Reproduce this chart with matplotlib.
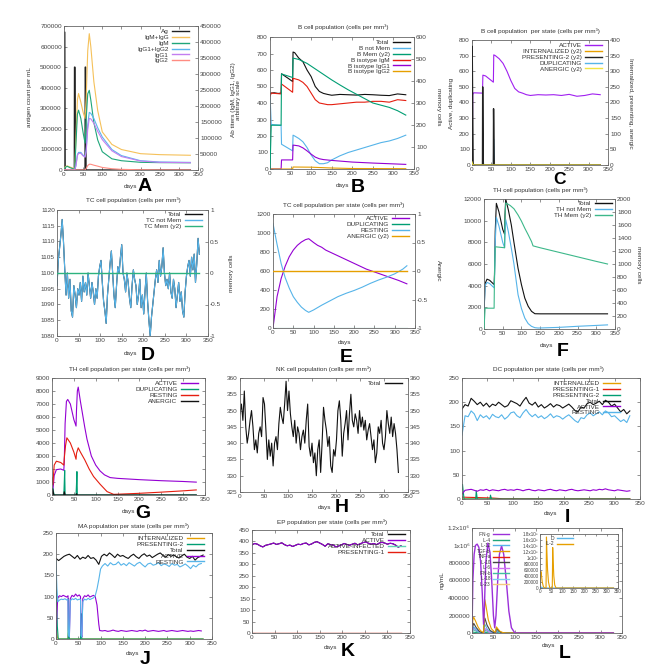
import numpy as np
import matplotlib
matplotlib.use("Agg")
import matplotlib.pyplot as plt
from matplotlib.lines import Line2D

plt.rcParams['font.family'] = ['Liberation Sans', 'DejaVu Sans']

W, H = 664, 670
fig = plt.figure(figsize=(W / 100, H / 100), dpi=100)
FS = 4.6
TXT = '#444444'

BLK = '#111111'; PUR = '#9400D3'; GRN = '#009E73'; LBL = '#56B4E9'
ORG = '#E69F00'; YEL = '#F0E442'; DBL = '#0072B2'; RED = '#E51E10'

# ---------------- DATA ----------------
# A: antigen / antibodies
A_ag_days = [0, 0.5, 2, 3, 27, 27.5, 28.5, 29.5, 55, 55.5, 56.5, 57.5, 330]
A_ag = [0, 670000, 670000, 0, 0, 500000, 500000, 0, 0, 500000, 500000, 0, 0]
A_days = [0, 3, 8, 15, 25, 28, 31, 35, 38, 44, 50, 55, 58, 62, 66, 70, 78, 88, 100, 125, 150, 200, 250, 330]
A_igm_igg = [0, 9600, 12900, 9600, 5100, 3200, 96000, 219000, 239000, 212000, 180000, 161000, 225000, 373000,
             426000, 386000, 276000, 186000, 119000, 80000, 64000, 51000, 48000, 46000]
A_igm = [0, 7700, 11600, 7700, 3200, 1900, 77000, 174000, 187000, 161000, 116000, 84000, 161000, 238000,
         249000, 219000, 148000, 94000, 57000, 35000, 29000, 24000, 23000, 22500]
A_igg12 = [0, 0, 0, 0, 0, 0, 12900, 48000, 55000, 55000, 46000, 42000, 64000, 141000, 180000, 177000,
           161000, 132000, 103000, 64000, 45000, 29000, 25000, 23800]
A_igg1 = [0, 0, 0, 0, 0, 0, 12000, 45000, 52000, 52000, 44000, 40000, 58000, 127000, 161000, 160000,
          146000, 121000, 95000, 60000, 42000, 28000, 24000, 23000]
A_igg2 = [0, 0, 0, 0, 0, 0, 0, 0, 0, 0, 0, 0, 5000, 14000, 18000, 18000, 15000, 12000, 8000, 4000, 2000,
          700, 200, 0]

# B: B cell population
B_tot_days = [0, 2, 10, 20, 27, 28, 35, 45, 55, 56, 60, 70, 80, 90, 100, 110, 120, 130, 140, 150, 170, 190,
              210, 230, 250, 270, 290, 310, 330]
B_tot = [453, 460, 462, 458, 460, 577, 565, 548, 530, 709, 705, 672, 650, 600, 560, 500, 470, 458, 452, 447,
         452, 450, 448, 452, 450, 447, 445, 455, 450]
B_nm_days = [0, 3, 27, 28, 55, 56, 60, 70, 80, 90, 100, 110, 120, 130, 140, 150, 170, 190, 210, 230, 250,
             270, 290, 310, 330]
B_nm = [450, 270, 265, 150, 110, 205, 200, 185, 165, 130, 85, 50, 32, 32, 38, 55, 80, 100, 115, 130, 145,
        160, 170, 185, 205]
B_mem_days = [0, 3, 27, 28, 55, 56, 70, 90, 110, 130, 150, 170, 190, 210, 230, 250, 270, 290, 310, 330]
B_mem = [0, 199, 199, 432, 416, 504, 498, 480, 455, 430, 405, 382, 360, 340, 320, 300, 290, 280, 265, 245]
B_igm_days = [0, 3, 27, 28, 55, 56, 70, 80, 90, 100, 110, 120, 130, 140, 150, 170, 190, 210, 230, 250, 270,
              290, 310, 330]
B_igm = [440, 460, 455, 515, 465, 550, 540, 525, 500, 460, 420, 400, 395, 390, 390, 395, 400, 405, 405, 410,
         410, 405, 420, 415]
B_igg1_days = [0, 27, 28, 55, 56, 70, 80, 90, 100, 110, 120, 130, 150, 175, 200, 250, 300, 330]
B_igg1 = [0, 0, 55, 55, 145, 140, 128, 110, 90, 72, 62, 57, 52, 47, 42, 36, 31, 28]
B_igg2_days = [0, 55, 56, 100, 150, 200, 330]
B_igg2 = [0, 0, 12, 11, 6, 3, 2]

# C: B cell per state
C_act_days = [0, 2, 4, 27, 28, 35, 45, 55, 56, 60, 70, 80, 90, 100, 110, 120, 130, 140, 150, 170, 190, 210,
              230, 250, 270, 290, 310, 330]
C_act = [0, 450, 462, 460, 575, 570, 550, 530, 705, 700, 680, 650, 600, 540, 490, 468, 460, 450, 445, 450,
         448, 450, 445, 452, 440, 445, 455, 450]
C_spk_days = [0, 0.5, 3, 27, 27.5, 29, 55, 55.5, 57, 330]
C_pres2 = [0, 380, 0, 0, 250, 0, 0, 180, 0, 0]
C_s_days = [0, 1, 3, 27, 28, 30, 55, 56, 58, 330]
C_dup = [40, 20, 0, 0, 90, 0, 0, 165, 0, 0]
C_int = [15, 10, 0, 0, 20, 0, 0, 15, 0, 0]
C_anr_days = [0, 1, 3, 330]
C_anr = [10, 5, 0, 0]

# D: TC cell population (every 3 days)
D_notmem = [1096, 1104, 1108, 1112, 1117, 1110, 1101, 1093, 1100, 1092,
            1098, 1088, 1086, 1096, 1093, 1089, 1095, 1093, 1097, 1091,
            1099, 1094, 1097, 1093, 1100, 1096, 1092, 1097, 1094, 1090,
            1095, 1092, 1099, 1102, 1104, 1097, 1091, 1088, 1084, 1093,
            1098, 1103, 1107, 1100, 1093, 1089, 1096, 1102, 1100, 1105,
            1109, 1100, 1098, 1094, 1100, 1097, 1092, 1089, 1096, 1101,
            1098, 1096, 1090, 1093, 1098, 1089, 1093, 1087, 1094, 1100,
            1091, 1085, 1080, 1086, 1090, 1094, 1098, 1101, 1097, 1104,
            1099, 1102, 1108, 1100, 1096, 1098, 1095, 1100, 1094, 1092,
            1098, 1095, 1089, 1093, 1097, 1091, 1094, 1088, 1086, 1094,
            1099, 1102, 1104, 1099, 1105, 1101, 1106, 1097, 1103, 1111,
            1106]
D_mem_days = [0, 330]
D_mem = [0, 0]

# E: TC cell per state
E_act_days = [0, 10, 20, 30, 40, 50, 60, 70, 80, 88, 100, 110, 120, 130, 150, 170, 190, 210, 230, 250, 270,
              290, 310, 330]
E_act = [0, 330, 520, 650, 750, 820, 870, 905, 930, 940, 900, 870, 850, 820, 780, 740, 700, 660, 620, 590,
         560, 530, 500, 465]
E_rest_days = [0, 10, 20, 30, 40, 50, 60, 70, 80, 88, 100, 120, 140, 160, 180, 200, 220, 240, 260, 280, 300,
               320, 330]
E_rest = [1100, 880, 680, 530, 420, 330, 270, 220, 185, 165, 190, 240, 285, 330, 365, 395, 430, 470, 505,
          535, 570, 620, 655]
E_flat_days = [0, 330]
E_dup = [3, 3]
E_anergic = [0, 0]

# F: TH cell population
F_tot_days = [0, 3, 8, 15, 27, 28, 30, 33, 40, 50, 55, 56, 58, 65, 73, 80, 91, 100, 109, 118, 127, 136, 150,
              200, 250, 300, 330]
F_tot = [1500, 4200, 4600, 4500, 4100, 5000, 9000, 11600, 10800, 9200, 8750, 10500, 12000, 11000, 9600,
         8000, 5600, 4100, 2850, 2100, 1630, 1410, 1400, 1400, 1400, 1400, 1400]
F_nm_days = [0, 3, 8, 15, 27, 28, 30, 33, 40, 50, 55, 56, 58, 65, 73, 80, 91, 100, 109, 118, 127, 136, 145,
             200, 250, 300, 330]
F_nm = [1400, 4000, 4300, 4200, 3800, 4500, 8000, 10300, 9500, 8000, 7500, 8500, 10100, 9000, 7460, 6000,
        3160, 1900, 1010, 500, 245, 120, 90, 150, 250, 330, 380]
F_mem_days = [0, 3, 27, 28, 30, 55, 56, 58, 70, 80, 91, 100, 109, 118, 127, 131, 150, 200, 250, 300, 330]
F_mem = [0, 320, 320, 800, 1265, 1250, 1700, 1940, 1900, 1850, 1754, 1660, 1550, 1450, 1345, 1279, 1250,
         1180, 1110, 1040, 1000]

# G: TH cell per state
G_act_days = [0, 2, 5, 10, 20, 27, 28, 30, 33, 36, 42, 50, 55, 56, 58, 60, 65, 75, 80, 90, 100, 110, 120,
              133, 150, 200, 250, 300, 330]
G_act = [0, 300, 1500, 1950, 2000, 1900, 2500, 5500, 7200, 7350, 7000, 5800, 5300, 6500, 8000, 8300, 7200,
         5200, 4300, 3000, 2300, 1850, 1550, 1340, 1280, 1180, 1100, 1040, 990]
G_rest_days = [0, 2, 5, 10, 20, 27, 28, 31, 34, 42, 50, 55, 56, 60, 65, 75, 85, 95, 110, 126, 141, 150, 200,
               250, 300, 330]
G_rest = [1350, 780, 2300, 2600, 2500, 2300, 2800, 3800, 4400, 4000, 3300, 2750, 3200, 3630, 3300, 2700,
          2000, 1425, 830, 260, 50, 60, 130, 220, 320, 390]
G_dup_days = [0, 1, 2, 3, 5, 27, 28, 29, 30, 55, 56, 57, 58, 330]
G_dup = [0, 400, 500, 300, 0, 0, 900, 1900, 0, 0, 800, 1800, 0, 0]
G_anr_days = [0, 1, 2, 4, 27, 28, 30, 55, 56, 58, 330]
G_anr = [0, 450, 400, 0, 0, 250, 0, 0, 100, 0, 0]

# H: NK cells (every 3 days)
H_total = [349, 352, 347, 356, 345, 340, 343, 347, 350, 345,
           338, 341, 337, 343, 345, 342, 354, 352, 344, 335,
           341, 336, 340, 333, 340, 342, 338, 346, 351, 348,
           346, 352, 359, 350, 356, 349, 345, 342, 347, 340,
           345, 343, 338, 342, 344, 340, 347, 352, 339, 336,
           340, 334, 337, 330, 338, 341, 331, 340, 351, 347,
           344, 339, 342, 333, 331, 338, 336, 341, 350, 353,
           347, 336, 343, 346, 350, 341, 349, 355, 347, 345,
           349, 347, 343, 350, 345, 348, 344, 347, 341, 344,
           346, 342, 338, 341, 334, 337, 345, 343, 347, 340,
           338, 342, 350, 346, 343, 348, 342, 346, 343, 338,
           331]

# I: DC per state (every 6 days)
I_total = [186, 195, 192, 208, 202, 195, 200, 192, 198, 190, 196, 193, 200, 195, 190, 193, 203, 200, 197, 192,
           202, 210, 198, 194, 200, 190, 195, 188, 192, 197, 190, 195, 193, 188, 192, 196, 190, 183, 180, 190,
           188, 197, 200, 195, 198, 202, 195, 204, 200, 192, 196, 188, 180, 185, 176, 182]
I_rest = [132, 172, 170, 182, 176, 162, 174, 168, 172, 165, 175, 170, 168, 174, 165, 170, 178, 180, 172, 168,
          178, 185, 176, 170, 175, 168, 172, 166, 170, 176, 168, 172, 170, 165, 170, 174, 168, 162, 158, 168,
          166, 174, 178, 172, 176, 180, 174, 182, 178, 170, 172, 166, 160, 164, 158, 172]
I_active = [10, 18, 19, 20, 18, 16, 19, 18, 20, 17, 19, 18, 17, 19, 20, 18, 19, 18, 20, 19,
            17, 19, 20, 18, 17, 19, 18, 17, 19, 20, 18, 17, 19, 18, 17, 19, 20, 18, 17, 18,
            19, 18, 17, 19, 18, 20, 19, 21, 19, 18, 17, 19, 18, 17, 16, 17]
I_sp_days = [0, 1, 2, 4, 27, 28, 30, 55, 56, 58, 330]
I_pres2 = [20, 30, 20, 0, 0, 17, 0, 0, 8, 0, 0]
I_int = [3, 2, 0, 0, 0, 4, 0, 0, 3, 0, 0]
I_p1_days = [0, 10, 30, 60, 80, 330]
I_pres1 = [4, 3.5, 3, 2, 0.5, 0.3]

# J: MA per state
J_total = [190, 185, 190, 195, 198, 200, 195, 190, 197, 188, 193, 190, 197, 190, 192, 186, 176, 195, 200, 196,
           203, 198, 192, 200, 195, 197, 193, 190, 196, 200, 194, 190, 197, 201, 195, 198, 192, 196, 200, 203,
           197, 193, 199, 195, 198, 194, 191, 196, 200, 193, 190, 195, 186, 192, 195, 198]
J_rest_days = [0, 2, 4, 8, 12, 16, 20, 24, 27, 28, 30, 32, 36, 40, 44, 48, 52, 55, 56, 58, 60, 64, 68, 72, 76,
               80, 84, 88, 92, 96, 100, 104] + list(range(110, 331, 6))
J_rest = [185, 120, 88, 92, 94, 93, 95, 92, 94, 10, 5, 90, 95, 93, 96, 92, 94, 93, 8, 5,
          88, 94, 92, 96, 93, 95, 97, 102, 118, 140, 165, 172,
          178, 172, 180, 175, 176, 182, 174, 178, 173, 180, 176, 172, 178, 181, 175, 170, 177, 179, 174, 176,
          180, 173, 177, 175, 171, 178, 174, 176, 170, 173, 177, 172, 166, 174, 170, 176, 178]
J_act_days = [0, 2, 4, 8, 12, 16, 20, 24, 27, 28, 30, 32, 36, 40, 44, 48, 52, 55, 56, 58, 60, 64, 68, 72, 76,
              80, 84, 88, 92, 96, 98] + list(range(104, 331, 6))
J_act = [0, 60, 98, 102, 100, 103, 101, 99, 102, 20, 5, 95, 103, 100, 106, 101, 104, 100, 15, 5,
         95, 102, 100, 104, 99, 101, 103, 100, 80, 35, 20,
         19, 20, 18, 19, 21, 19, 18, 20, 19, 18, 19, 20, 19, 18, 20, 19, 21, 18, 19, 20,
         19, 18, 19, 20, 18, 19, 20, 19, 18, 19, 20, 19, 18, 19, 18, 19, 20, 19]
J_p2_days = [0, 1, 3, 5, 27, 28, 29, 30, 55, 56, 57, 58, 330]
J_pres2 = [135, 110, 30, 0, 0, 95, 15, 0, 0, 60, 10, 0, 0]
J_int_days = [0, 1, 3, 5, 27, 28, 30, 330]
J_int = [40, 20, 5, 0, 0, 15, 0, 0]

# K: EP per state (every 6 days)
K_active = [385, 391, 388, 381, 376, 383, 386, 389, 393, 387, 390, 394, 386, 381, 384, 378, 383, 388, 386, 391,
            393, 385, 389, 396, 399, 393, 387, 379, 390, 386, 384, 376, 380, 385, 391, 387, 383, 388, 392, 385,
            390, 395, 398, 392, 388, 391, 386, 393, 396, 393, 388, 392, 390, 384, 375, 381]
K_zero_days = [0, 330]
K_infected = [1, 1]
K_pres1 = [0, 0]

# L: cytokines
L_ifng_days = [0, 2, 5, 8, 12, 16, 20, 24, 27, 29, 32, 37, 42, 46, 50, 53, 56, 60, 64, 69, 74, 80, 86, 92,
               100, 330]
L_ifng = [0, 600000, 900000, 1000000, 1016000, 980000, 820000, 450000, 100000, 300000, 800000, 1027000,
          920000, 600000, 200000, 60000, 200000, 600000, 900000, 996000, 900000, 600000, 250000, 60000, 0, 0]
L_tgfb_days = [0, 2, 4, 8, 14, 20, 27, 28, 30, 33, 38, 45, 52, 55, 57, 60, 65, 72, 80, 330]
L_tgfb = [0, 150000, 180000, 140000, 70000, 25000, 5000, 100000, 380000, 300000, 150000, 50000, 15000,
          10000, 70000, 50000, 20000, 5000, 0, 0]
L_il10_days = [0, 2, 4, 10, 18, 27, 28, 30, 35, 42, 50, 55, 57, 62, 70, 330]
L_il10 = [0, 80000, 110000, 60000, 15000, 0, 100000, 170000, 90000, 30000, 5000, 0, 60000, 25000, 0, 0]
L_il12_days = [0, 2, 4, 10, 18, 27, 28, 30, 36, 45, 55, 57, 62, 70, 330]
L_il12 = [0, 50000, 70000, 35000, 10000, 0, 60000, 100000, 40000, 10000, 0, 40000, 15000, 0, 0]
L_small_days = [0, 3, 10, 20, 28, 31, 40, 56, 59, 70, 330]
L_il6 = [0, 60000, 30000, 5000, 0, 50000, 10000, 0, 30000, 0, 0]
L_ifnb = [0, 40000, 20000, 3000, 0, 30000, 8000, 0, 20000, 0, 0]
L_il4 = [0, 10000, 5000, 0, 0, 8000, 0, 0, 4000, 0, 0]
L_zero_days = [0, 330]
L_zero = [0, 0]
L_il2_days = [0, 2, 4, 7, 10, 15, 20, 27, 28, 29, 31, 34, 38, 44, 55, 56, 57, 59, 62, 66, 72, 330]
L_il2 = [0, 400000, 550000, 400000, 200000, 50000, 0, 0, 600000, 1700000, 1200000, 600000, 200000, 0, 0,
         600000, 1350000, 900000, 400000, 100000, 0, 0]
L_d_days = [0, 2, 5, 10, 20, 330]
L_d = [0, 40000, 30000, 10000, 0, 0]
L_tick_labels = ['0', '200000', '400000', '600000', '800000', '1x10\u2076', '1.2x10\u2076']
L_inset_tick_labels = ['0', '200000', '400000', '600000', '800000', '1x10\u2076', '1.2x10\u2076',
                       '1.4x10\u2076', '1.6x10\u2076', '1.8x10\u2076']


# ---------------- helpers ----------------
def px(x, y):
    return x / W, 1 - y / H


def make_ax(l, t, r, b, ylim, yt, ylab=None, xmax=350):
    ax = fig.add_axes([l / W, 1 - b / H, (r - l) / W, (b - t) / H])
    ax.set_xlim(0, xmax)
    ax.set_ylim(*ylim)
    ax.set_xticks(range(0, 351, 50))
    ax.set_yticks(yt)
    ax.set_yticklabels(ylab if ylab else [f"{v:g}" for v in yt])
    ax.tick_params(direction='in', length=2, width=0.5, labelsize=FS, labelcolor=TXT, color='#666666',
                   top=True, right=True, pad=1.5)
    for s in ax.spines.values():
        s.set_linewidth(0.6)
        s.set_color('#666666')
    return ax


def twin(ax, ylim, yt, ylab=None):
    ax.tick_params(right=False)
    a2 = ax.twinx()
    a2.set_ylim(*ylim)
    a2.set_yticks(yt)
    a2.set_yticklabels(ylab if ylab else [f"{v:g}" for v in yt])
    a2.tick_params(direction='in', length=2, width=0.5, labelsize=FS, labelcolor=TXT, color='#666666', pad=1.5)
    for s in a2.spines.values():
        s.set_visible(False)
    return a2


def legend(ax, items, x, y, fs=FS, hl=2.6, sp=0.05):
    hs = [Line2D([], [], color=c, lw=1.0) for _, c in items]
    lg = ax.legend(hs, [n for n, _ in items], loc='upper right', bbox_to_anchor=px(x, y),
                   bbox_transform=fig.transFigure, frameon=False, fontsize=fs, markerfirst=False,
                   labelspacing=sp, handlelength=hl, handletextpad=0.6, borderpad=0, borderaxespad=0)
    for t in lg.get_texts():
        t.set_color('#333333')
    return lg


def title(x, y, s):
    fig.text(*px(x, y), s, ha='center', va='center', fontsize=FS, color='#333333')


def days(x, y):
    fig.text(*px(x, y), 'days', ha='center', va='center', fontsize=FS, color='#333333')


def letter(x, y, s, fs=14):
    fig.text(*px(x, y), s, ha='center', va='center', fontsize=fs, fontweight='bold', color='black')


def ylab(x, y, s, rot=90):
    fig.text(*px(x, y), s, ha='center', va='center', fontsize=FS, color='#333333', rotation=rot,
             multialignment='center')


LW = 0.8
MM3 = 'mm\u00b3'

# ---------------- A ----------------
ax = make_ax(64, 26, 198, 170, (0, 700000), range(0, 700001, 100000))
a2 = twin(ax, (0, 450000), range(0, 450001, 50000))
ax.plot(A_ag_days, A_ag, color='#222222', lw=1.0)
a2.plot(A_days, A_igm_igg, color='#F5C15A', lw=LW)
a2.plot(A_days, A_igm, color='#1FA67A', lw=LW)
a2.plot(A_days, A_igg12, color='#5AB4EE', lw=LW)
a2.plot(A_days, A_igg1, color='#C27EF0', lw=LW)
a2.plot(A_days, A_igg2, color='#FF8C82', lw=LW)
legend(a2, [('Ag', '#222222'), ('IgM+IgG', '#F5C15A'), ('IgM', '#1FA67A'), ('IgG1+IgG2', '#5AB4EE'),
            ('IgG1', '#C27EF0'), ('IgG2', '#FF8C82')], 189, 29)
ylab(29, 97, 'antigen count per mL')
days(131, 187)
letter(145, 187, 'A')

# ---------------- B ----------------
ax = make_ax(270, 37, 414, 169, (0, 800), range(0, 801, 100))
a2 = twin(ax, (0, 600), range(0, 601, 100))
ax.plot(B_tot_days, B_tot, color=BLK, lw=LW)
ax.plot(B_nm_days, B_nm, color=LBL, lw=LW)
a2.plot(B_mem_days, B_mem, color=GRN, lw=LW)
ax.plot(B_igm_days, B_igm, color=RED, lw=LW)
ax.plot(B_igg1_days, B_igg1, color=PUR, lw=LW)
ax.plot(B_igg2_days, B_igg2, color=ORG, lw=LW)
legend(a2, [('Total', BLK), ('B not Mem', LBL), ('B Mem (y2)', GRN), ('B isotype IgM', RED),
            ('B isotype IgG1', PUR), ('B isotype IgG2', ORG)], 410, 40)
title(343, 27, 'B cell population (cells per ' + MM3 + ')')
ylab(236, 100, 'Ab titers (IgM, IgG1, IgG2)\narbitrary scale')
ylab(438, 107, 'memory cells', -90)
days(342, 185)
letter(358, 188, 'B')

# ---------------- C ----------------
ax = make_ax(472, 40, 608, 165, (0, 800), range(0, 801, 100))
a2 = twin(ax, (0, 400), range(0, 401, 50))
ax.plot(C_act_days, C_act, color='#A020F0', lw=LW)
a2.plot(C_s_days, C_int, color=ORG, lw=LW)
a2.plot(C_spk_days, C_pres2, color='#222222', lw=1.0)
ax.plot(C_s_days, C_dup, color=LBL, lw=LW)
a2.plot(C_anr_days, C_anr, color=YEL, lw=LW)
legend(a2, [('ACTIVE', '#A020F0'), ('INTERNALIZED (y2)', ORG), ('PRESENTING-2 (y2)', '#222222'),
            ('DUPLICATING', LBL), ('ANERGIC (y2)', YEL)], 602, 43)
title(540, 31, 'B cell population  per state (cells per ' + MM3 + ')')
ylab(451, 103, 'Active, duplicating')
ylab(630, 103, 'Internalized, presenting, anergic', -90)
letter(559, 179, 'C', fs=12.5)

# ---------------- D ----------------
ax = make_ax(57, 210, 208, 336, (1080, 1120), range(1080, 1121, 5))
a2 = twin(ax, (-1, 1), [-1, -0.5, 0, 0.5, 1])
d_days = np.linspace(0, 330, len(D_notmem))
ax.plot(d_days, D_notmem, color=BLK, lw=LW)
ax.plot(d_days, D_notmem, color=LBL, lw=LW)
a2.plot(D_mem_days, D_mem, color='#2DB37F', lw=1.0)
legend(a2, [('Total', BLK), ('TC not Mem', LBL), ('TC Mem (y2)', '#2DB37F')], 202, 212)
title(133, 200, 'TC cell population (cells per ' + MM3 + ')')
days(130, 353)
letter(148, 355, 'D')

# ---------------- E ----------------
ax = make_ax(273, 214, 415, 328, (0, 1200), range(0, 1201, 200))
a2 = twin(ax, (-1, 1), [-1, -0.5, 0, 0.5, 1])
ax.plot(E_act_days, E_act, color=PUR, lw=LW)
ax.plot(E_flat_days, E_dup, color=GRN, lw=LW)
ax.plot(E_rest_days, E_rest, color=LBL, lw=LW)
a2.plot(E_flat_days, E_anergic, color=ORG, lw=1.0)
legend(a2, [('ACTIVE', PUR), ('DUPLICATING', GRN), ('RESTING', LBL), ('ANERGIC (y2)', ORG)], 409, 216)
title(344, 205, 'TC cell population per state (cells per ' + MM3 + ')')
ylab(231, 273, 'memory cells')
ylab(438, 271, 'Anergic', -90)
days(344, 342)
letter(346, 357, 'E')

# ---------------- F ----------------
ax = make_ax(484, 199, 615, 329, (0, 12000), range(0, 12001, 2000))
a2 = twin(ax, (0, 2000), range(0, 2001, 200))
ax.plot(F_tot_days, F_tot, color=BLK, lw=LW)
ax.plot(F_nm_days, F_nm, color=LBL, lw=LW)
a2.plot(F_mem_days, F_mem, color='#3DB88A', lw=LW)
legend(a2, [('Total', BLK), ('TH not Mem', LBL), ('TH Mem (y2)', '#3DB88A')], 612, 201)
title(540, 190, 'TH cell population (cells per ' + MM3 + ')')
ylab(638, 265, 'memory cells', -90)
days(546, 346)
letter(563, 352, 'F')

# ---------------- G ----------------
ax = make_ax(52, 378, 205, 495, (0, 9000), range(0, 9001, 1000))
ax.plot(G_act_days, G_act, color=PUR, lw=LW)
ax.plot(G_dup_days, G_dup, color=GRN, lw=LW)
ax.plot(G_rest_days, G_rest, color=RED, lw=LW)
ax.plot(G_anr_days, G_anr, color=BLK, lw=LW)
legend(ax, [('ACTIVE', PUR), ('DUPLICATING', GRN), ('RESTING', RED), ('ANERGIC', BLK)], 198, 381)
title(130, 369, 'TH cell population per state (cells per ' + MM3 + ')')
days(128, 511)
letter(143, 514, 'G')

# ---------------- H ----------------
ax = make_ax(240, 378, 408, 492, (325, 360), range(325, 361, 5))
a2 = twin(ax, (325, 360), range(325, 361, 5))
ax.plot(np.linspace(0, 330, len(H_total)), H_total, color=BLK, lw=LW)
legend(a2, [('Total', BLK)], 402, 381)
title(324, 369, 'NK cell population (cells per ' + MM3 + ')')
days(325, 508)
letter(342, 508, 'H')

# ---------------- I ----------------
ax = make_ax(462, 378, 640, 499, (0, 250), range(0, 251, 50))
i_days = np.linspace(0, 330, len(I_total))
ax.plot(I_sp_days, I_int, color=ORG, lw=LW)
ax.plot(I_p1_days, I_pres1, color=RED, lw=LW)
ax.plot(I_sp_days, I_pres2, color=GRN, lw=LW)
ax.plot(i_days, I_total, color=BLK, lw=LW)
ax.plot(i_days, I_active, color=PUR, lw=LW)
ax.plot(i_days, I_rest, color=LBL, lw=LW)
legend(ax, [('INTERNALIZED', ORG), ('PRESENTING-1', RED), ('PRESENTING-2', GRN), ('Total', BLK),
            ('ACTIVE', PUR), ('RESTING', LBL)], 620, 381)
title(548, 369, 'DC population per state (cells per ' + MM3 + ')')
days(551, 514)
letter(567, 517, 'I')

# ---------------- J ----------------
ax = make_ax(56, 533, 212, 639, (0, 250), range(0, 251, 50))
ax.plot(J_int_days, J_int, color=ORG, lw=LW)
ax.plot(J_p2_days, J_pres2, color=GRN, lw=LW)
ax.plot(np.linspace(0, 330, len(J_total)), J_total, color=BLK, lw=LW)
ax.plot(J_act_days, J_act, color=PUR, lw=LW)
ax.plot(J_rest_days, J_rest, color=LBL, lw=LW)
legend(ax, [('INTERNALIZED', ORG), ('PRESENTING-2', GRN), ('Total', BLK), ('ACTIVE', PUR),
            ('RESTING', LBL)], 204, 536)
title(133, 526, 'MA population per state (cells per ' + MM3 + ')')
days(133, 653)
letter(145, 660, 'J')

# ---------------- K ----------------
ax = make_ax(252, 530, 410, 633, (0, 450), range(0, 451, 50))
k_days = np.linspace(0, 330, len(K_active))
ax.plot(k_days, K_active, color=BLK, lw=LW)
ax.plot(k_days, K_active, color=PUR, lw=LW)
ax.plot(K_zero_days, K_infected, color='#5FD3B3', lw=LW)
ax.plot(K_zero_days, K_pres1, color=RED, lw=1.0)
legend(ax, [('Total', BLK), ('ACTIVE', PUR), ('ACTIVE-INFECTED', '#5FD3B3'), ('PRESENTING-1', RED)],
       405, 532)
title(332, 522, 'EP population per state (cells per ' + MM3 + ')')
days(331, 647)
letter(348, 651, 'K')

# ---------------- L ----------------
ax = make_ax(472, 528, 622, 633, (0, 1200000), range(0, 1200001, 200000), L_tick_labels)
L_cols = {'IFN-g': '#9B30D9', 'IL-4': '#1FA67A', 'IL-12': '#56B4E9', 'TGF-b': '#E69F00',
          'TNF-a': '#E51E10', 'IL-10': '#444444', 'IL-6': '#D070F0', 'IFN-b': '#40C0A0',
          'IL-18': '#80D0F0', 'IL-23': '#F5C880'}
ax.plot(L_zero_days, L_zero, color=L_cols['IL-23'], lw=LW)
ax.plot(L_zero_days, L_zero, color=L_cols['IL-18'], lw=LW)
ax.plot(L_zero_days, L_zero, color=L_cols['TNF-a'], lw=LW)
ax.plot(L_small_days, L_il4, color=L_cols['IL-4'], lw=LW)
ax.plot(L_small_days, L_ifnb, color=L_cols['IFN-b'], lw=LW)
ax.plot(L_small_days, L_il6, color=L_cols['IL-6'], lw=LW)
ax.plot(L_il12_days, L_il12, color=L_cols['IL-12'], lw=LW)
ax.plot(L_il10_days, L_il10, color=L_cols['IL-10'], lw=LW)
ax.plot(L_tgfb_days, L_tgfb, color=L_cols['TGF-b'], lw=LW)
ax.plot(L_ifng_days, L_ifng, color=L_cols['IFN-g'], lw=1.0)
legend(ax, [(k, v) for k, v in L_cols.items()], 509, 532, fs=3.3, hl=3.4, sp=0.12)
ylab(442, 580, 'ng/mL')
days(548, 646)
letter(565, 653, 'L')

ins = make_ax(540, 534, 618, 588, (0, 1800000), range(0, 1800001, 200000), L_inset_tick_labels)
ins.tick_params(labelsize=3.3, length=1.5, pad=1)
ins.plot(L_d_days, L_d, color=LBL, lw=LW)
ins.plot(L_il2_days, L_il2, color=ORG, lw=LW)
legend(ins, [('D', LBL), ('IL-2', ORG)], 573, 536, fs=3.6, hl=3.2)

fig.savefig('out.png', dpi=100)
